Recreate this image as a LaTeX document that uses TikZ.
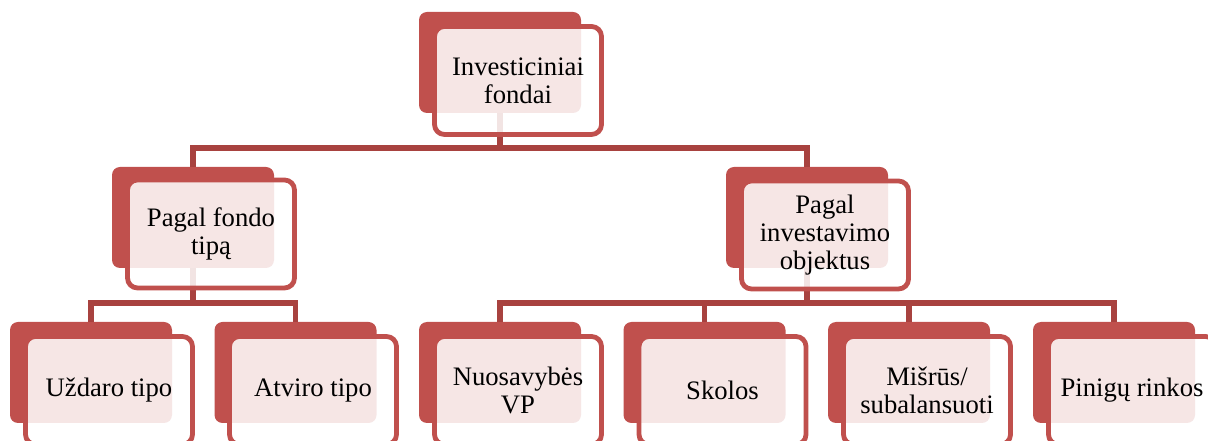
\documentclass[tikz,border=0pt]{standalone}
\usepackage{fontspec}
\setmainfont{Liberation Serif}
\definecolor{boxred}{RGB}{192,80,77}
\definecolor{linkred}{RGB}{168,66,63}
\begin{document}
\begin{tikzpicture}[x=0.75pt,y=-0.75pt,
  backbox/.style={fill=boxred, draw=none, rounded corners=6pt, minimum width=121.5pt, minimum height=75.75pt, inner sep=0pt, anchor=center},
  frontbox/.style={draw=boxred, line width=3.6pt, fill=white, fill opacity=0.86, text opacity=1, rounded corners=7.5pt, minimum width=125.25pt, minimum height=81pt, inner sep=0pt, align=center, anchor=center, font=\fontsize{20}{20.8}\selectfont},
  link/.style={draw=linkred, line width=4pt}]
\useasboundingbox (0,0) rectangle (1208,441);
\clip (0,0) rectangle (1208,441);
% back boxes
\node[backbox] (b0) at (500,62.5) {};
\node[backbox] (b1) at (193,217.5) {};
\node[backbox] (b2) at (807,217.5) {};
\node[backbox] (b3) at (91,372.5) {};
\node[backbox] (b4) at (295.5,372.5) {};
\node[backbox] (b5) at (500,372.5) {};
\node[backbox] (b6) at (704.5,372.5) {};
\node[backbox] (b7) at (909,372.5) {};
\node[backbox] (b8) at (1114,372.5) {};
% junctions
\coordinate (j0) at (500,148);
\coordinate (j1) at (193,303);
\coordinate (j2) at (807,303);
% connectors
\draw[link] (b0.south) -- (j0) -| (b1.north);
\draw[link] (j0) -| (b2.north);
\draw[link] (b1.south) -- (j1) -| (b3.north);
\draw[link] (j1) -| (b4.north);
\draw[link] (b2.south) -- (j2) -| (b5.north);
\draw[link] (j2) -| (b6.north);
\draw[link] (j2) -| (b7.north);
\draw[link] (j2) -| (b8.north);
% front boxes
\node[frontbox] (f0) at (518,80.5) {Investiciniai\\fondai};
\node[frontbox] (f1) at (211,234) {Pagal fondo\\tipą};
\node[frontbox] (f2) at (825,235) {Pagal\\investavimo\\objektus};
\node[frontbox] (f3) at (109,390.5) {Uždaro tipo};
\node[frontbox] (f4) at (313,390.5) {Atviro tipo};
\node[frontbox] (f5) at (518,390.5) {Nuosavybės\\VP};
\node[frontbox] (f6) at (722.5,390.5) {Skolos};
\node[frontbox] (f7) at (927,390.5) {Mišrūs/\\subalansuoti};
\node[frontbox] (f8) at (1132,390.5) {Pinigų rinkos};
\end{tikzpicture}
\end{document}
